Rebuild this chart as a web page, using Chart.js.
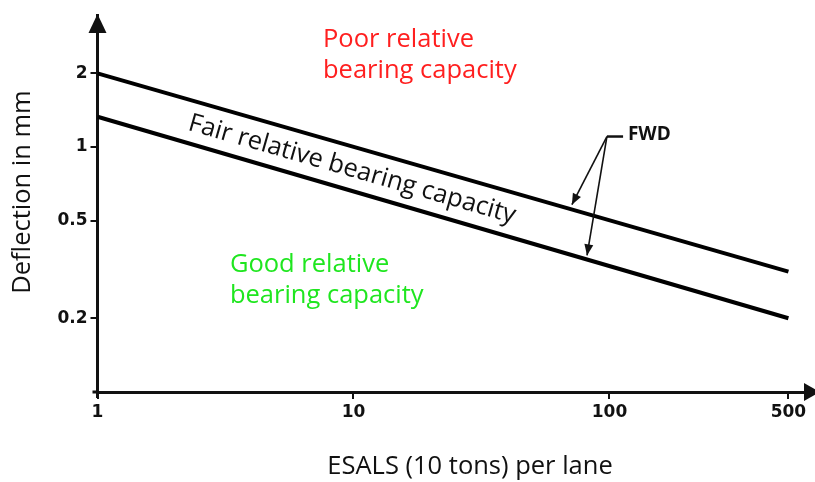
<!DOCTYPE html>
<html>
<head>
<meta charset="utf-8">
<script src="https://cdn.jsdelivr.net/npm/chart.js@4"></script>
<style>
  html, body { margin: 0; padding: 0; background: #ffffff; }
  #wrap { width: 815px; height: 482px; }
</style>
</head>
<body>
<div id="wrap"><canvas id="chart" width="815" height="482"></canvas></div>
<script>
// Traffic (ESALs per lane) at the ends of the two limit lines
const esals = [1, 500];
// FWD deflection limits, mm
const upperLimit = [2.0, 0.31];
const lowerLimit = [1.33, 0.2];
// Axis tick values
const xTicks = [1, 10, 100, 500];
const yTicks = [0.2, 0.5, 1, 2];

const INK = '#111111';
const TEXT_FONT = '"Open Sans", "Noto Sans", sans-serif';
const TEXT_SIZE = 25.5;

// Zone captions, anchored in data coordinates (left edge, first baseline)
const zoneLabels = [
  { lines: ['Poor relative', 'bearing capacity'], x: 7.6, y: 2.55, color: '#ff1f1f' },
  { lines: ['Good relative', 'bearing capacity'], x: 3.29, y: 0.31, color: '#1fe61f' }
];
// Band caption placed between the two limit lines
const bandLabel = { text: 'Fair relative bearing capacity', x: 9.87, y: 0.81 };
// FWD call-out: label, elbow and the two arrow targets
const fwdCallout = {
  text: 'FWD', x: 118, y: 1.125,
  elbow: [{ x: 97.7, y: 1.104 }, { x: 113, y: 1.104 }],
  targets: [{ x: 71.3, y: 0.582 }, { x: 81.7, y: 0.361 }]
};

const toPts = (xs, ys) => xs.map((x, i) => ({ x: x, y: ys[i] }));

function arrowHead(ctx, fromX, fromY, tipX, tipY, len, half) {
  const a = Math.atan2(tipY - fromY, tipX - fromX);
  ctx.beginPath();
  ctx.moveTo(tipX, tipY);
  ctx.lineTo(tipX - len * Math.cos(a) + half * Math.sin(a), tipY - len * Math.sin(a) - half * Math.cos(a));
  ctx.lineTo(tipX - len * Math.cos(a) - half * Math.sin(a), tipY - len * Math.sin(a) + half * Math.cos(a));
  ctx.closePath();
  ctx.fill();
}

const decorations = {
  id: 'decorations',
  afterDraw(chart) {
    const ctx = chart.ctx;
    const xs = chart.scales.x, ys = chart.scales.y;
    const area = chart.chartArea;
    const px = (x) => xs.getPixelForValue(x);
    const py = (y) => ys.getPixelForValue(y);
    ctx.save();

    // axis arrowheads and small overshoot at the origin
    ctx.fillStyle = INK;
    ctx.strokeStyle = INK;
    ctx.lineWidth = 3;
    ctx.beginPath();
    ctx.moveTo(area.left, area.bottom);
    ctx.lineTo(area.left, area.bottom + 6);
    ctx.moveTo(area.left - 5, area.bottom);
    ctx.lineTo(area.left, area.bottom);
    ctx.stroke();
    arrowHead(ctx, area.left, area.bottom, area.left, area.top - 1, 19, 9);
    arrowHead(ctx, area.left, area.bottom, area.right + 5, area.bottom, 16, 9);

    // zone captions
    ctx.font = TEXT_SIZE + 'px ' + TEXT_FONT;
    ctx.textAlign = 'left';
    ctx.textBaseline = 'alphabetic';
    zoneLabels.forEach(z => {
      ctx.fillStyle = z.color;
      z.lines.forEach((t, i) => ctx.fillText(t, px(z.x), py(z.y) + i * 31));
    });

    // band caption rotated along the limit lines
    const ang = Math.atan2(py(upperLimit[1]) - py(upperLimit[0]), px(esals[1]) - px(esals[0]));
    ctx.save();
    ctx.translate(px(bandLabel.x), py(bandLabel.y));
    ctx.rotate(ang);
    ctx.fillStyle = INK;
    ctx.textAlign = 'center';
    ctx.textBaseline = 'middle';
    ctx.fillText(bandLabel.text, 0, 0);
    ctx.restore();

    // FWD call-out
    ctx.fillStyle = INK;
    ctx.font = 'bold 19px ' + TEXT_FONT;
    ctx.textAlign = 'left';
    ctx.textBaseline = 'middle';
    ctx.fillText(fwdCallout.text, px(fwdCallout.x), py(fwdCallout.y));
    const e0 = fwdCallout.elbow[0], e1 = fwdCallout.elbow[1];
    ctx.lineWidth = 2.5;
    ctx.beginPath();
    ctx.moveTo(px(e1.x), py(e1.y));
    ctx.lineTo(px(e0.x), py(e0.y));
    ctx.stroke();
    ctx.lineWidth = 1.6;
    fwdCallout.targets.forEach(t => {
      ctx.beginPath();
      ctx.moveTo(px(e0.x), py(e0.y));
      ctx.lineTo(px(t.x), py(t.y));
      ctx.stroke();
      arrowHead(ctx, px(e0.x), py(e0.y), px(t.x), py(t.y), 11, 4.5);
    });

    // axis titles
    ctx.font = TEXT_SIZE + 'px ' + TEXT_FONT;
    ctx.fillStyle = INK;
    ctx.textAlign = 'center';
    ctx.textBaseline = 'middle';
    ctx.fillText('ESALS (10 tons) per lane', 470, 467);
    ctx.save();
    ctx.translate(23, 192);
    ctx.rotate(-Math.PI / 2);
    ctx.fillText('Deflection in mm', 0, 0);
    ctx.restore();

    ctx.restore();
  }
};

const tickFont = { family: '"DejaVu Sans", sans-serif', size: 17, weight: 'bold' };

new Chart(document.getElementById('chart'), {
  type: 'line',
  data: {
    datasets: [
      { label: 'Upper limit', data: toPts(esals, upperLimit), borderColor: '#000', borderWidth: 4, pointRadius: 0, tension: 0 },
      { label: 'Lower limit', data: toPts(esals, lowerLimit), borderColor: '#000', borderWidth: 4, pointRadius: 0, tension: 0 }
    ]
  },
  options: {
    responsive: false,
    animation: false,
    events: [],
    layout: { padding: { top: 15, right: 0, left: 0, bottom: 0 } },
    plugins: { legend: { display: false }, tooltip: { enabled: false } },
    scales: {
      x: {
        type: 'logarithmic',
        min: 1,
        max: 635,
        afterBuildTicks: s => { s.ticks = xTicks.map(v => ({ value: v })); },
        afterFit: s => { s.height = 90; },
        ticks: { callback: v => String(v), font: tickFont, color: INK, padding: 3, maxRotation: 0, autoSkip: false },
        grid: { drawOnChartArea: false, drawTicks: true, tickLength: 7, color: INK, lineWidth: 2 },
        border: { display: true, color: INK, width: 3 }
      },
      y: {
        type: 'logarithmic',
        min: 0.1,
        max: 3.46,
        afterBuildTicks: s => { s.ticks = yTicks.map(v => ({ value: v })); },
        afterFit: s => { s.width = 97.5; },
        ticks: { callback: v => String(v), font: tickFont, color: INK, padding: 3, autoSkip: false },
        grid: { drawOnChartArea: false, drawTicks: true, tickLength: 7, color: INK, lineWidth: 2 },
        border: { display: true, color: INK, width: 3 }
      }
    }
  },
  plugins: [decorations]
});
</script>
</body>
</html>
